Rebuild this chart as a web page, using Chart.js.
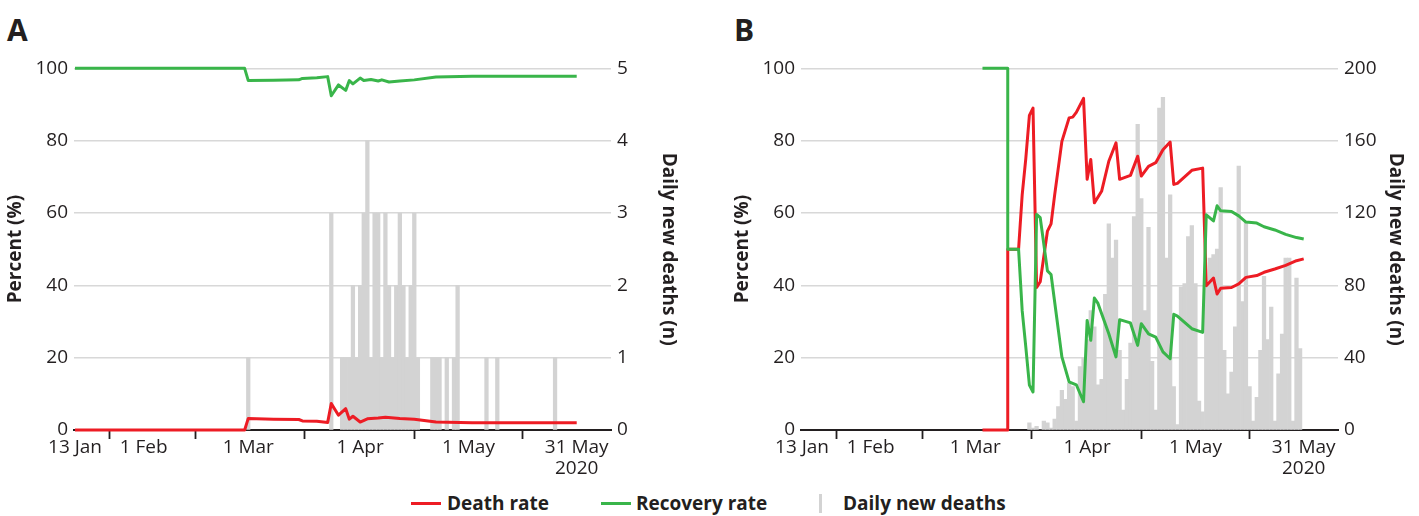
<!DOCTYPE html>
<html>
<head>
<meta charset="utf-8">
<script src="https://cdn.jsdelivr.net/npm/chart.js@4.4.1/dist/chart.umd.min.js"></script>
<style>
  html, body { margin:0; padding:0; background:#fff; width:1419px; height:516px; overflow:hidden; }
  body { position:relative; font-family:'Open Sans', sans-serif; color:#231f20; }
  .wrap { position:absolute; top:0; width:690px; height:490px; }
  #wrapA { left:0; }
  #wrapB { left:727px; }
  .plabel { position:absolute; top:15px; font-weight:700; font-size:30px; line-height:30px; }
  .leg-text { position:absolute; top:491px; font-weight:700; font-size:19px; line-height:24px; white-space:nowrap; }
  .leg-line { position:absolute; top:502px; height:3px; width:30px; }
  .leg-bar { position:absolute; top:494px; height:19px; width:3px; background:#d3d3d3; }
</style>
</head>
<body>
<div class="plabel" style="left:7px;">A</div>
<div class="plabel" style="left:734px;">B</div>
<div class="wrap" id="wrapA"><canvas id="chartA"></canvas></div>
<div class="wrap" id="wrapB"><canvas id="chartB"></canvas></div>

<div class="leg-line" style="left:411px;background:#ed1c24;"></div>
<div class="leg-text" style="left:447px;">Death rate</div>
<div class="leg-line" style="left:601px;background:#39b54a;"></div>
<div class="leg-text" style="left:636px;">Recovery rate</div>
<div class="leg-bar" style="left:819px;"></div>
<div class="leg-text" style="left:843px;">Daily new deaths</div>

<script>
// ---- x axis: days since 13 Jan 2020 ----
const tickDays = [0, 19, 48, 79, 109, 139];
const tickLabels = ['13 Jan', '1 Feb', '1 Mar', '1 Apr', '1 May', ['31 May', '2020']];
const percentTicks = [0, 20, 40, 60, 80, 100];

// ---- Panel A ----
const aRecoveryDays = [0, 47, 48, 55, 62, 63, 67, 70, 71, 73, 75, 76, 77, 79, 80, 82, 84, 85, 87, 90, 94, 100, 110, 139];
const aRecoveryRate = [100, 100, 96.6, 96.7, 96.8, 97.2, 97.4, 97.7, 92.4, 95.4, 93.9, 96.6, 95.7, 97.3, 96.6, 96.9, 96.5, 96.8, 96.2, 96.5, 96.8, 97.6, 97.8, 97.8];
const aDeathDays = [0, 47, 48, 55, 62, 63, 67, 70, 71, 73, 75, 76, 77, 79, 81, 84, 86, 90, 94, 100, 110, 139];
const aDeathRate = [0, 0, 3.2, 3.0, 2.9, 2.5, 2.4, 2.1, 7.3, 4.1, 5.9, 3.0, 3.8, 2.2, 3.1, 3.3, 3.5, 3.2, 3.0, 2.2, 2.0, 2.0];
const aNewDeathDays = [48, 71, 74, 75, 76, 77, 78, 79, 80, 81, 82, 83, 84, 85, 86, 87, 88, 89, 90, 91, 92, 93, 94, 95, 99, 100, 101, 103, 105, 106, 114, 117, 133];
const aNewDeaths    = [1, 3, 1, 1, 1, 2, 1, 2, 3, 4, 1, 3, 3, 1, 3, 2, 1, 2, 3, 2, 1, 2, 3, 1, 1, 1, 1, 1, 1, 2, 1, 1, 1];
const aRightTicks = [0, 1, 2, 3, 4, 5];

// ---- Panel B ----
const bRecoveryDays = [50, 57, 57, 60, 61, 62, 63, 64, 65, 66, 68, 69, 72, 74, 76, 78, 79, 80, 81, 82, 85, 87, 88, 91, 93, 94, 96, 98, 100, 102, 103, 104, 108, 111, 112, 114, 115, 116, 119, 121, 123, 126, 128, 131, 134, 137, 139];
const bRecoveryRate = [100, 100, 50, 50, 33, 23, 12.4, 10.5, 59.6, 58.7, 44, 43, 20.2, 13.3, 12.5, 7.8, 30.3, 24.8, 36.5, 35, 26.6, 20.2, 30.5, 29.6, 23.4, 29.4, 26.6, 25.7, 21.6, 19.7, 32, 31.5, 28, 27, 59.5, 57.8, 62, 60.6, 60.4, 59.2, 57.5, 57.2, 56.2, 55.3, 54.1, 53.2, 52.8];
const bDeathDays = [50, 57, 57, 60, 61, 62, 63, 64, 65, 66, 68, 69, 70, 72, 74, 75, 76, 78, 79, 80, 81, 83, 85, 87, 88, 91, 93, 94, 96, 98, 100, 102, 103, 104, 108, 111, 112, 114, 115, 116, 119, 121, 123, 126, 128, 131, 134, 137, 139];
const bDeathRate = [0, 0, 50, 50, 65, 75, 87, 89, 39.4, 41, 55, 57, 65, 79.8, 86.3, 86.5, 87.8, 91.7, 69.3, 74.8, 62.8, 66, 74.3, 79.4, 69.3, 70.4, 75.7, 70.2, 72.9, 73.9, 77.5, 79.6, 67.9, 68.2, 71.8, 72.4, 39.9, 42, 37.6, 39.2, 39.4, 40.4, 42.2, 42.7, 43.6, 44.5, 45.5, 46.8, 47.3];
const bFirstBarDay = 63;
const bNewDeaths = [4, 1, 2, 0, 5, 4, 1, 6, 13, 22, 17, 26, 24, 5, 35, 40, 50, 66, 57, 25, 28, 75, 114, 95, 105, 44, 11, 28, 48, 118, 169, 128, 66, 112, 38, 11, 178, 184, 95, 130, 24, 3, 79, 81, 107, 113, 81, 16, 10, 81, 95, 97, 100, 134, 44, 20, 32, 57, 146, 71, 115, 24, 5, 18, 44, 85, 50, 68, 5, 31, 53, 95, 95, 5, 84, 45];
const bNewDeathDays = bNewDeaths.map((_, i) => bFirstBarDay + i);
const bRightTicks = [0, 40, 80, 120, 160, 200];

// ---- styling ----
const RED = '#ed1c24', GREEN = '#39b54a', GREY = '#d3d3d3', INK = '#231f20', GRID = '#d8d8d8';
Chart.defaults.font.family = "'Open Sans', sans-serif";
Chart.defaults.color = INK;

function pts(xs, ys) { return xs.map((x, i) => ({ x: x, y: ys[i] })); }

function makeChart(id, rec, recD, death, deathD, bars, barD, rightTicks) {
  const rMax = rightTicks[rightTicks.length - 1];
  return new Chart(document.getElementById(id), {
    type: 'line',
    data: {
      datasets: [
        { type: 'line', label: 'Recovery rate', data: pts(recD, rec), borderColor: GREEN, borderWidth: 3,
          pointRadius: 0, tension: 0, yAxisID: 'y', order: 0, borderJoinStyle: 'round', clip: 6 },
        { type: 'line', label: 'Death rate', data: pts(deathD, death), borderColor: RED, borderWidth: 3,
          pointRadius: 0, tension: 0, yAxisID: 'y', order: 1, borderJoinStyle: 'round', clip: 6 },
        { type: 'bar', label: 'Daily new deaths', data: pts(barD, bars), backgroundColor: GREY,
          yAxisID: 'y2', order: 2, barPercentage: 1.0, categoryPercentage: 1.0 }
      ]
    },
    options: {
      responsive: true,
      maintainAspectRatio: false,
      animation: false,
      events: [],
      layout: { padding: { top: 68.3, bottom: 0, left: 0, right: 6.6 } },
      plugins: { legend: { display: false }, tooltip: { enabled: false } },
      scales: {
        x: {
          type: 'linear', min: -0.28, max: 148.5, offset: false,
          afterBuildTicks: (s) => { s.ticks = tickDays.map(v => ({ value: v })); },
          afterFit: (s) => { s.height = 60; },
          ticks: {
            autoSkip: false, maxRotation: 0, minRotation: 0, padding: -2,
            font: { size: 19, lineHeight: 1.1 }, color: INK,
            callback: (v, i) => tickLabels[i]
          },
          grid: { display: true, drawOnChartArea: false, drawTicks: true, tickLength: 9, tickColor: INK, tickWidth: 1.8 },
          border: { display: true, color: INK, width: 2 }
        },
        y: {
          type: 'linear', position: 'left', min: 0, max: 100,
          afterBuildTicks: (s) => { s.ticks = percentTicks.map(v => ({ value: v })); },
          afterFit: (s) => { s.width = 74; },
          ticks: { padding: 6, font: { size: 19 }, color: INK },
          grid: { color: GRID, lineWidth: 1.6, drawTicks: false },
          border: { display: false },
          title: { display: true, text: 'Percent (%)', font: { size: 19, weight: 'bold', lineHeight: 1.2 }, color: INK, padding: { top: 4, bottom: 0 } }
        },
        y2: {
          type: 'linear', position: 'right', min: 0, max: rMax,
          afterBuildTicks: (s) => { s.ticks = rightTicks.map(v => ({ value: v })); },
          afterFit: (s) => { s.width = 72.4; },
          ticks: { padding: 6, font: { size: 19 }, color: INK },
          grid: { drawOnChartArea: false, drawTicks: false },
          border: { display: false },
          title: { display: true, text: 'Daily new deaths (n)', font: { size: 19, weight: 'bold', lineHeight: 1.2 }, color: INK, padding: { top: 4, bottom: 0 } }
        }
      }
    }
  });
}

makeChart('chartA', aRecoveryRate, aRecoveryDays, aDeathRate, aDeathDays, aNewDeaths, aNewDeathDays, aRightTicks);
makeChart('chartB', bRecoveryRate, bRecoveryDays, bDeathRate, bDeathDays, bNewDeaths, bNewDeathDays, bRightTicks);
</script>
</body>
</html>
